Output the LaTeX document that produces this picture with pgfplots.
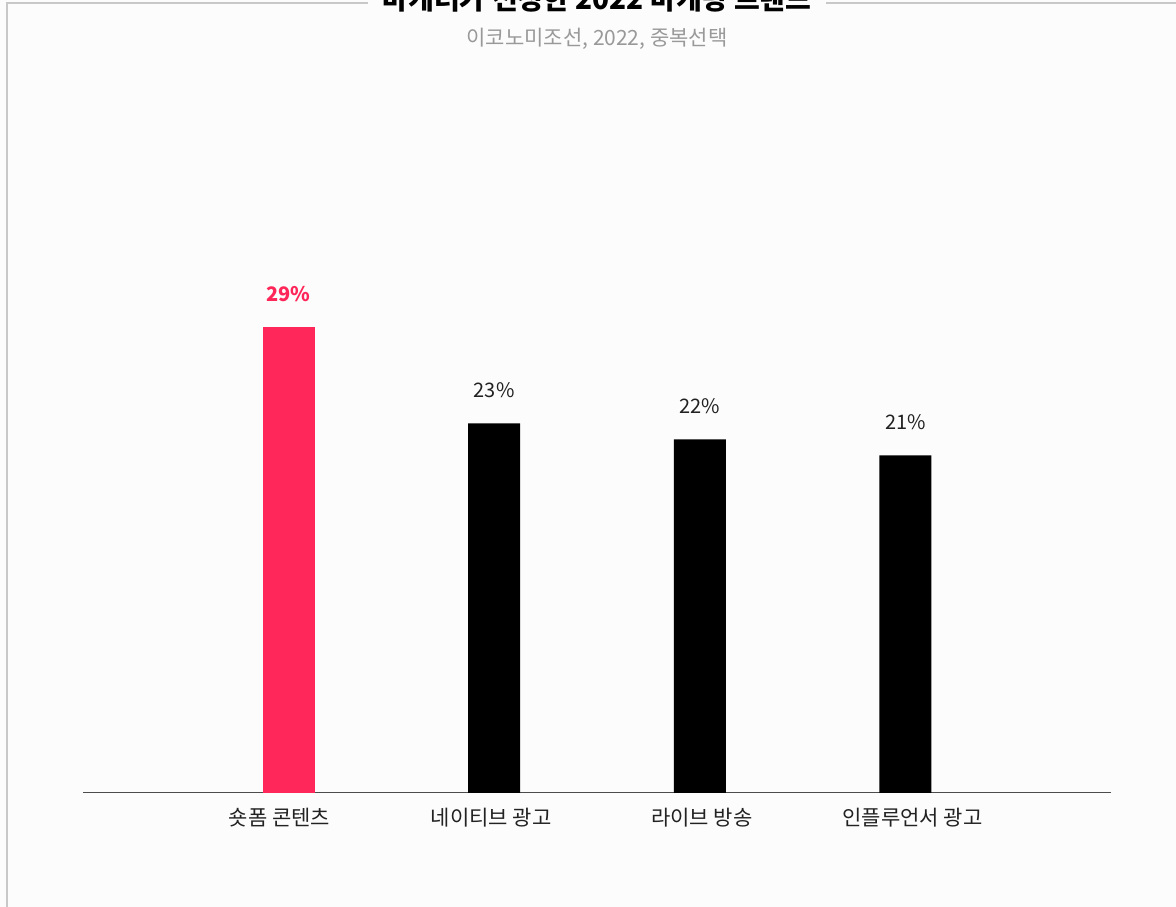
\documentclass[border=0pt]{standalone}
\usepackage{fontspec}
\newfontfamily\kr{Noto Sans CJK KR}
\usepackage{pgfplots}
\pgfplotsset{compat=1.18}
\definecolor{pinkbar}{HTML}{FF2759}
\definecolor{framegray}{HTML}{C8C8C8}
\definecolor{subgray}{HTML}{999999}
\definecolor{txt}{HTML}{222222}
\begin{document}
\begin{tikzpicture}[x=1pt,y=1pt]
\useasboundingbox (0,0) rectangle (1176,907);
\clip (0,0) rectangle (1176,907);
\fill[white!99!black] (0,0) rectangle (1176,907);
\draw[framegray, line width=1.5pt] (7,0) -- (7,904) -- (368,904);
\draw[framegray, line width=1.5pt] (826,904) -- (1176,904);
\node[font=\kr\bfseries\fontsize{28}{32}\selectfont, text=black] at (597,908) {마케터가 선정한 2022 마케팅 트렌드};
\node[font=\kr\fontsize{21}{25}\selectfont, text=subgray] at (597,868) {이코노미조선, 2022, 중복선택};
\begin{axis}[
  at={(83pt,114pt)}, anchor=south west,
  width=1028pt, height=733pt, scale only axis,
  xmin=-1, xmax=4, ymin=0, ymax=45.6,
  axis x line=bottom, axis y line=none,
  x axis line style={-, draw=black!70, line width=1pt},
  ytick=\empty,
  xtick={-0.045,0.985,2.01,3.035},
  xticklabels={숏폼 콘텐츠, 네이티브 광고, 라이브 방송, 인플루언서 광고},
  major tick length=0pt,
  x tick label style={font=\kr\fontsize{21}{25}\selectfont, text=txt, anchor=center, yshift=-25pt},
  /pgf/number format/assume math mode=true,
  ybar, bar width=52pt,
  nodes near coords={\pgfmathprintnumber{\pgfplotspointmeta}\%},
  clip=false,
]
\addplot[fill=pinkbar, draw=none, bar shift=0pt,
  every node near coord/.style={font=\kr\bfseries\fontsize{20}{24}\selectfont, text=pinkbar, anchor=center, yshift=33pt}]
  coordinates {(0,29)};
\addplot[fill=black, draw=none, bar shift=0pt,
  every node near coord/.style={font=\kr\fontsize{20}{24}\selectfont, text=txt, anchor=center, yshift=33pt}]
  coordinates {(1,23) (2,22) (3,21)};
\end{axis}
\end{tikzpicture}
\end{document}
